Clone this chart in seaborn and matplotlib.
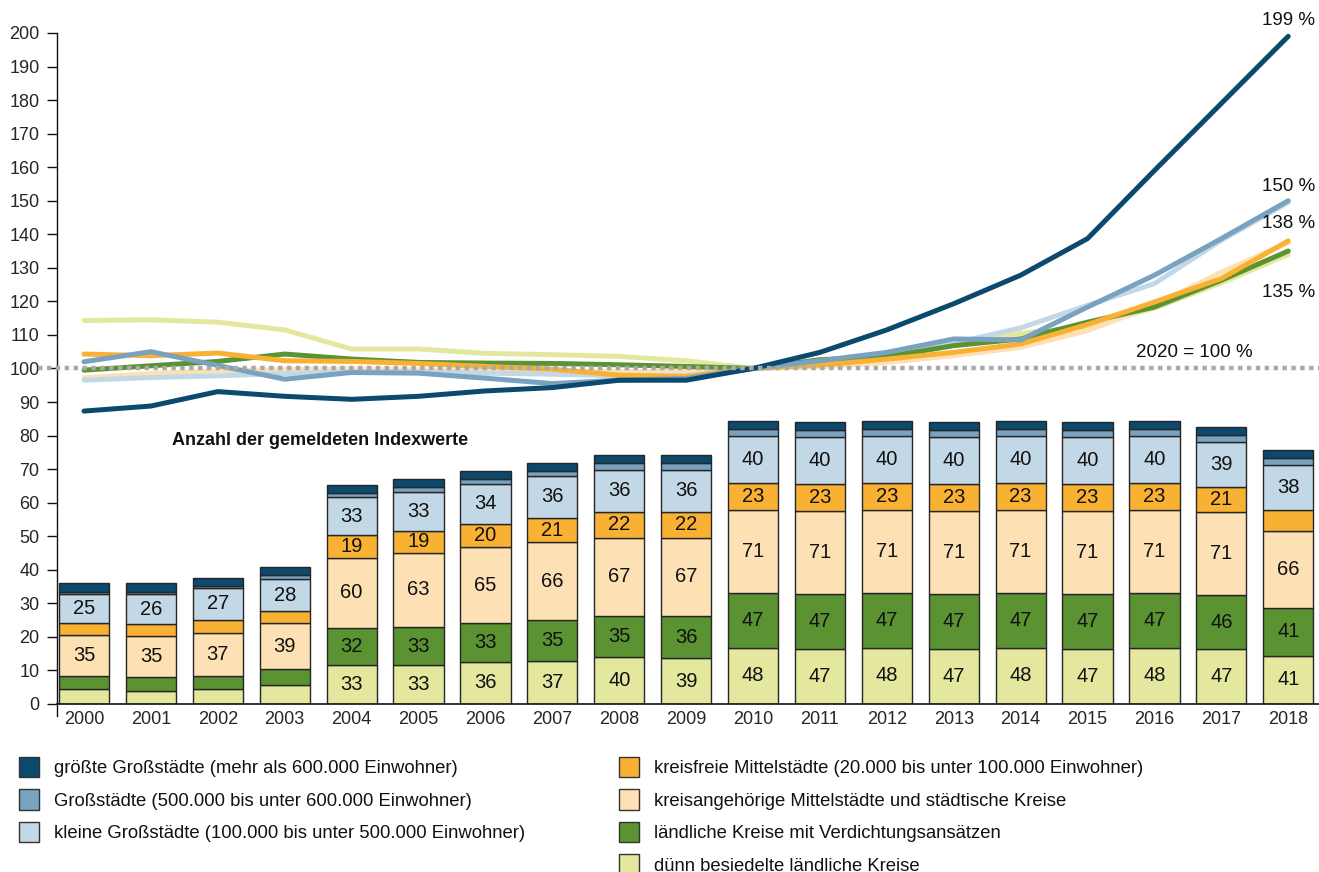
import numpy as np
import pandas as pd
import matplotlib
matplotlib.use("Agg")
import matplotlib.pyplot as plt
from matplotlib.patches import Patch
import seaborn as sns

# --- data -------------------------------------------------------------
years = list(range(2000, 2019))

categories = [
    "größte Großstädte (mehr als 600.000 Einwohner)",
    "Großstädte (500.000 bis unter 600.000 Einwohner)",
    "kleine Großstädte (100.000 bis unter 500.000 Einwohner)",
    "kreisfreie Mittelstädte (20.000 bis unter 100.000 Einwohner)",
    "kreisangehörige Mittelstädte und städtische Kreise",
    "ländliche Kreise mit Verdichtungsansätzen",
    "dünn besiedelte ländliche Kreise",
]

# index values (2020 = 100 %)
idx_groesste = [87.3, 88.8, 93.1, 91.7, 90.8, 91.7, 93.3, 94.3, 96.5, 96.5,
                100, 104.8, 111.5, 119.3, 127.8, 138.7, 159.0, 179.0, 199.0]
idx_gross = [102.0, 105.0, 100.9, 96.8, 98.8, 98.6, 97.1, 95.5, 96.5, 97.0,
             100, 102.3, 104.8, 108.8, 108.5, 118.3, 127.8, 138.7, 150.0]
idx_klein = [96.5, 97.3, 97.8, 98.5, 99.0, 99.0, 98.6, 98.3, 97.8, 97.8,
             100, 101.5, 103.8, 107.5, 112.1, 118.8, 125.3, 138.2, 149.5]
idx_kreisfrei = [104.3, 103.8, 104.6, 102.3, 102.1, 101.5, 100.6, 99.8, 98.0, 97.6,
                 100, 101.0, 102.8, 104.8, 107.3, 113.1, 119.8, 126.8, 138.0]
idx_kreisang = [97.2, 98.5, 99.3, 99.7, 99.8, 99.6, 99.4, 99.3, 99.0, 99.2,
                100, 100.5, 101.8, 103.8, 106.3, 111.3, 118.8, 128.7, 137.5]
idx_laendl = [99.5, 100.8, 102.1, 104.3, 102.8, 101.8, 101.6, 101.5, 101.1, 100.6,
              100, 102.6, 103.5, 106.8, 108.8, 113.8, 118.3, 126.3, 135.0]
idx_duenn = [114.3, 114.5, 113.8, 111.5, 105.8, 105.8, 104.5, 104.1, 103.6, 102.3,
             100, 102.0, 103.5, 107.5, 110.5, 112.5, 118.0, 125.5, 134.0]

# number of reported index values per region type
n_duenn = [13, 11, 13, 16, 33, 33, 36, 37, 40, 39, 48, 47, 48, 47, 48, 47, 48, 47, 41]
n_laendl = [11, 12, 11, 14, 32, 33, 33, 35, 35, 36, 47, 47, 47, 47, 47, 47, 47, 46, 41]
n_kreisang = [35, 35, 37, 39, 60, 63, 65, 66, 67, 67, 71, 71, 71, 71, 71, 71, 71, 71, 66]
n_kreisfrei = [10, 10, 11, 10, 19, 19, 20, 21, 22, 22, 23, 23, 23, 23, 23, 23, 23, 21, 18]
n_klein = [25, 26, 27, 28, 33, 33, 34, 36, 36, 36, 40, 40, 40, 40, 40, 40, 40, 39, 38]
n_gross = [2, 2, 2, 3, 3, 4, 4, 4, 6, 6, 6, 6, 6, 6, 6, 6, 6, 6, 6]
n_groesste = [7, 7, 7, 7, 7, 7, 7, 7, 7, 7, 7, 7, 7, 7, 7, 7, 7, 7, 7]

end_labels = ["199 %", "150 %", "138 %", "135 %"]

# --- style ------------------------------------------------------------
colors = {
    categories[0]: "#0b4a6e",
    categories[1]: "#79a1c0",
    categories[2]: "#c3d8e7",
    categories[3]: "#f8b133",
    categories[4]: "#fde0b4",
    categories[5]: "#5b9232",
    categories[6]: "#e4e89e",
}

sns.set_theme(style="white")
plt.rcParams["font.family"] = ["Liberation Sans", "DejaVu Sans"]
plt.rcParams["text.color"] = "#111111"

fig = plt.figure(figsize=(13.19, 8.72), dpi=100)
ax = fig.add_axes([0.0432, 0.1927, 0.9568, 0.7695])
axb = ax.twinx()
ax.set_zorder(axb.get_zorder() + 1)
ax.patch.set_visible(False)

x = np.arange(len(years))
xlim = (-0.404, 18.46)
counts_per_unit = 2.866

# --- stacked bars (counts) --------------------------------------------
stack = [
    (categories[6], n_duenn),
    (categories[5], n_laendl),
    (categories[4], n_kreisang),
    (categories[3], n_kreisfrei),
    (categories[2], n_klein),
    (categories[1], n_gross),
    (categories[0], n_groesste),
]
bottom = np.zeros(len(years))
for k, (cat, vals) in enumerate(stack):
    vals = np.array(vals, dtype=float)
    axb.bar(x, vals, bottom=bottom, width=0.75, color=colors[cat],
            edgecolor="#262626", linewidth=1.0)
    if k < 5:
        for xi, b, v in zip(x, bottom, vals):
            if v >= 19:
                axb.text(xi, b + v / 2, f"{int(v)}", ha="center", va="center",
                         fontsize=14.5, color="#111111")
    bottom += vals
axb.set_ylim(0, 200 * counts_per_unit)
axb.set_xlim(*xlim)
axb.set_yticks([])
for s in axb.spines.values():
    s.set_visible(False)

# --- index lines ------------------------------------------------------
idx_series = {
    categories[6]: idx_duenn,
    categories[4]: idx_kreisang,
    categories[2]: idx_klein,
    categories[5]: idx_laendl,
    categories[3]: idx_kreisfrei,
    categories[1]: idx_gross,
    categories[0]: idx_groesste,
}
long = pd.DataFrame(
    [(i, v, cat) for cat, vals in idx_series.items() for i, v in enumerate(vals)],
    columns=["pos", "index", "typ"],
)
sns.lineplot(data=long, x="pos", y="index", hue="typ",
             hue_order=list(idx_series.keys()), palette=colors,
             linewidth=3.6, legend=False, ax=ax,
             solid_capstyle="round", solid_joinstyle="round")

# reference line at 100
ax.axhline(100, xmin=-0.015, xmax=1.0, color="#a9a9a9", lw=3.2,
           linestyle=(0, (1, 1)), zorder=5, clip_on=False)
ax.text(16.6, 103.4, "2020 = 100 %", ha="center", va="baseline", fontsize=13.5)

# end-of-line labels
last = len(years) - 1
for txt, val, dy in [(end_labels[0], idx_groesste[-1], 5),
                     (end_labels[1], idx_gross[-1], 4),
                     (end_labels[2], idx_kreisfrei[-1], 6.5)]:
    ax.annotate(txt, (last, val), xytext=(0, dy), textcoords="offset points",
                ha="center", va="bottom", fontsize=13.5, annotation_clip=False)
ax.annotate(end_labels[3], (last, idx_laendl[-1]), xytext=(0, -24),
            textcoords="offset points", ha="center", va="top", fontsize=13.5,
            annotation_clip=False)

ax.text(1.315, 78.5, "Anzahl der gemeldeten Indexwerte", ha="left",
        va="center", fontsize=13, fontweight="bold")

# --- axes -------------------------------------------------------------
ax.set_xlim(*xlim)
ax.set_ylim(0, 200)
ax.set_yticks(range(0, 201, 10))
ax.set_xticks(x)
ax.set_xticklabels([str(y) for y in years])
ax.set_xlabel("")
ax.set_ylabel("")
ax.tick_params(axis="y", which="both", left=True, length=7.5, width=1.0,
               color="#111111", pad=5, labelsize=13)
ax.tick_params(axis="x", length=0, pad=5, labelsize=13)
for side in ("top", "right"):
    ax.spines[side].set_visible(False)
ax.spines["left"].set_color("#111111")
ax.spines["left"].set_linewidth(1.0)
ax.spines["left"].set_bounds(-3.5, 200)
ax.spines["bottom"].set_color("#111111")
ax.spines["bottom"].set_linewidth(1.2)

# --- legend -----------------------------------------------------------
def handles_for(cats):
    return [Patch(facecolor=colors[c], edgecolor="#333333", linewidth=1.0)
            for c in cats]

leg_kw = dict(frameon=False, fontsize=13.3, handlelength=1.08,
              handleheight=1.3, handletextpad=0.8, labelspacing=0.66,
              borderpad=0, borderaxespad=0, loc="upper left")
fig.legend(handles_for(categories[:3]), categories[:3],
           bbox_to_anchor=(19 / 1319, 1 - 757 / 872), **leg_kw)
fig.legend(handles_for(categories[3:]), categories[3:],
           bbox_to_anchor=(619 / 1319, 1 - 757 / 872), **leg_kw)

fig.savefig("out.png", dpi=100)
